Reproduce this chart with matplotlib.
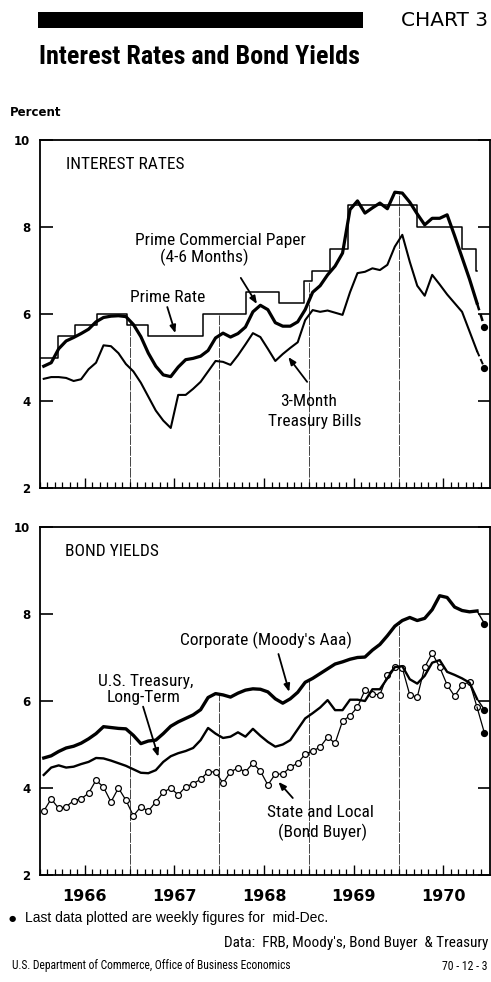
import numpy as np
import matplotlib
matplotlib.use('Agg')
import matplotlib.pyplot as plt
from matplotlib import font_manager as fm
from matplotlib.patches import Rectangle


def pick(names):
    for n in names:
        try:
            fm.findfont(fm.FontProperties(family=n), fallback_to_default=False)
            return n
        except Exception:
            continue
    return 'DejaVu Sans'


COND = pick(['Liberation Sans Narrow', 'DejaVu Sans Condensed', 'Roboto Condensed', 'Liberation Sans'])
PLAIN = pick(['Liberation Sans', 'DejaVu Sans'])

# ---------------- data (monthly averages Jan 1966 - Nov 1970, plus weekly mid-Dec 1970) -------------
year_labels = ['1966', '1967', '1968', '1969', '1970']

commercial_paper = [4.80, 4.88, 5.20, 5.38, 5.46, 5.55, 5.65, 5.82, 5.92, 5.95, 5.96, 5.94,
                    5.76, 5.48, 5.10, 4.80, 4.60, 4.56, 4.78, 4.95, 4.98, 5.03, 5.16, 5.45,
                    5.56, 5.47, 5.55, 5.70, 6.05, 6.20, 6.10, 5.80, 5.72, 5.72, 5.82, 6.10,
                    6.50, 6.65, 6.90, 7.10, 7.40, 8.40, 8.60, 8.32, 8.44, 8.55, 8.42, 8.80,
                    8.78, 8.57, 8.30, 8.05, 8.20, 8.20, 8.28, 7.80, 7.30, 6.80, 6.25]
commercial_paper_dec = 5.70

treasury_bills = [4.51, 4.55, 4.55, 4.53, 4.46, 4.50, 4.73, 4.88, 5.28, 5.26, 5.10, 4.85,
                  4.68, 4.42, 4.10, 3.78, 3.55, 3.38, 4.14, 4.14, 4.28, 4.44, 4.68, 4.92,
                  4.90, 4.83, 5.05, 5.30, 5.56, 5.47, 5.20, 4.92, 5.08, 5.22, 5.35, 5.86,
                  6.09, 6.05, 6.08, 6.03, 5.98, 6.50, 6.94, 6.97, 7.05, 7.01, 7.13, 7.55,
                  7.82, 7.20, 6.65, 6.42, 6.90, 6.68, 6.45, 6.25, 6.05, 5.60, 5.15]
treasury_bills_dec = 4.76

prime_change_dates = [1966.00, 1966.20, 1966.39, 1966.64, 1966.97, 1967.20, 1967.82, 1968.30,
                      1968.67, 1968.95, 1969.03, 1969.23, 1969.44, 1970.21, 1970.71, 1970.865, 1970.875]
prime_rate = [5.00, 5.50, 5.75, 6.00, 5.75, 5.50, 6.00, 6.50,
              6.25, 6.75, 7.00, 7.50, 8.50, 8.00, 7.50, 7.00, 7.00]

corporate_aaa = [4.69, 4.74, 4.84, 4.92, 4.96, 5.03, 5.13, 5.25, 5.41, 5.39, 5.37, 5.36,
                 5.21, 5.02, 5.08, 5.10, 5.25, 5.42, 5.52, 5.60, 5.68, 5.80, 6.08, 6.17,
                 6.14, 6.09, 6.18, 6.25, 6.28, 6.27, 6.21, 6.05, 5.95, 6.05, 6.20, 6.43,
                 6.52, 6.63, 6.74, 6.85, 6.90, 6.96, 7.00, 7.01, 7.17, 7.30, 7.50, 7.72,
                 7.85, 7.92, 7.85, 7.90, 8.10, 8.42, 8.38, 8.16, 8.08, 8.05, 8.07]
corporate_aaa_dec = 7.78

us_treasury_long = [4.30, 4.47, 4.52, 4.47, 4.49, 4.55, 4.60, 4.69, 4.68, 4.63, 4.57, 4.51,
                    4.43, 4.35, 4.34, 4.41, 4.60, 4.73, 4.80, 4.85, 4.92, 5.10, 5.38, 5.25,
                    5.15, 5.18, 5.28, 5.18, 5.36, 5.20, 5.06, 4.95, 5.00, 5.10, 5.35, 5.60,
                    5.72, 5.85, 6.02, 5.79, 5.79, 6.03, 6.03, 6.00, 6.27, 6.27, 6.52, 6.78,
                    6.80, 6.50, 6.40, 6.58, 6.88, 6.94, 6.67, 6.60, 6.52, 6.42, 6.05]
us_treasury_long_dec = 5.80

state_local = [3.47, 3.75, 3.53, 3.57, 3.71, 3.75, 3.88, 4.18, 4.02, 3.68, 4.00, 3.72,
               3.36, 3.57, 3.47, 3.68, 3.90, 4.00, 3.84, 4.03, 4.10, 4.20, 4.37, 4.37,
               4.11, 4.37, 4.46, 4.37, 4.57, 4.39, 4.07, 4.32, 4.32, 4.48, 4.57, 4.78,
               4.85, 4.94, 5.17, 5.03, 5.54, 5.66, 5.86, 6.25, 6.16, 6.14, 6.60, 6.78,
               6.76, 6.14, 6.09, 6.78, 7.10, 6.78, 6.37, 6.11, 6.37, 6.44, 5.86]
state_local_dec = 5.26

# ---------------- helpers -------------
t = 1966 + (np.arange(len(commercial_paper)) + 0.5) / 12.0
t_dec = 1970 + 11.5 / 12.0
XMIN, XMAX = 1966.0, 1971.02

W, H = 491, 982
fig = plt.figure(figsize=(W / 100, H / 100), dpi=100)
fig.patch.set_facecolor('white')


def fx(px):
    return px / W


def fy(py):
    return 1 - py / H


ax1 = fig.add_axes([fx(40), fy(488), 450 / W, 348 / H])
ax2 = fig.add_axes([fx(40), fy(875), 450 / W, 348 / H])

for ax in (ax1, ax2):
    ax.set_xlim(XMIN, XMAX)
    ax.set_ylim(2, 10)
    for s in ax.spines.values():
        s.set_linewidth(1.3)
        s.set_color('black')
    ax.set_yticks([2, 4, 6, 8, 10])
    ax.set_yticklabels(['2', '4', '6', '8', '10'])
    ax.tick_params(axis='y', which='major', direction='in', length=9, width=1.2,
                   left=True, right=True, labelleft=True, labelright=False, pad=7,
                   labelsize=8.5)
    for lab in ax.get_yticklabels():
        lab.set_fontweight('bold')
    months = 1966 + np.arange(0, 60) / 12.0
    ax.set_xticks([m for i, m in enumerate(months) if i % 12 != 6], minor=True)
    ax.set_xticks([y + 0.5 for y in range(1966, 1971)])
    ax.tick_params(axis='x', which='minor', direction='in', length=4.5, width=0.9,
                   top=False, bottom=True)
    ax.tick_params(axis='x', which='major', direction='in', length=7.5, width=1.0,
                   top=False, bottom=True, pad=10, labelsize=11.5)

ax1.set_xticklabels([])
ax2.set_xticklabels(year_labels)
for lab in ax2.get_xticklabels():
    lab.set_fontweight('bold')

# ---------------- top panel -------------
prime_dates = np.array(prime_change_dates)
prime_vals = np.array(prime_rate)


def prime_at(x):
    i = np.searchsorted(prime_dates, x, side='right') - 1
    return prime_vals[max(i, 0)]


vline_style = dict(color='#444444', lw=0.7, linestyle=(0, (10, 1.2)), zorder=1)
for yr in (1967, 1968, 1969, 1970):
    top = max(np.interp(yr, t, commercial_paper), prime_at(yr))
    ax1.plot([yr, yr], [2, top], **vline_style)
    ax2.plot([yr, yr], [2, np.interp(yr, t, corporate_aaa)], **vline_style)

ax1.plot(prime_dates, prime_vals, drawstyle='steps-post', color='black', lw=1.1, zorder=3)
ax1.plot(t, treasury_bills, color='black', lw=1.5, zorder=4, solid_joinstyle='round')
ax1.plot(t, commercial_paper, color='black', lw=2.3, zorder=5, solid_joinstyle='round')
ax1.plot([t[-1], t_dec], [treasury_bills[-1], treasury_bills_dec], color='black', lw=1.4,
         linestyle=(0, (3, 1.5)), zorder=4)
ax1.plot([t[-1], t_dec], [commercial_paper[-1], commercial_paper_dec], color='black', lw=1.8,
         linestyle=(0, (3, 1.5)), zorder=5)
ax1.plot([t_dec, t_dec], [treasury_bills_dec, commercial_paper_dec], linestyle='none',
         marker='o', ms=4.2, color='black', zorder=6)

# ---------------- bottom panel -------------
ax2.plot(t, state_local, color='black', lw=0.9, marker='o', ms=4.2, mfc='white',
         mec='black', mew=0.9, zorder=3)
ax2.plot(t, us_treasury_long, color='black', lw=1.7, zorder=4, solid_joinstyle='round')
ax2.plot(t, corporate_aaa, color='black', lw=2.4, zorder=5, solid_joinstyle='round')
ax2.plot([t[-1], t_dec], [state_local[-1], state_local_dec], color='black', lw=0.9, zorder=3)
ax2.plot([t[-1], t_dec], [us_treasury_long[-1], us_treasury_long_dec], color='black', lw=1.0, zorder=4)
ax2.plot([t[-1], t_dec], [corporate_aaa[-1], corporate_aaa_dec], color='black', lw=1.0, zorder=5)
ax2.plot([t_dec] * 3, [state_local_dec, us_treasury_long_dec, corporate_aaa_dec], linestyle='none',
         marker='o', ms=4.2, color='black', zorder=6)

# ---------------- labels -------------
LBL = dict(family=COND, fontsize=12.5, color='black')
arrow = dict(arrowstyle='-|>,head_length=0.45,head_width=0.18', color='black', lw=1.3,
             shrinkA=0, shrinkB=0)

ax1.text(1966.29, 9.43, 'INTEREST RATES', ha='left', va='center', **LBL)
ax1.text(1968.01, 7.70, 'Prime Commercial Paper', ha='center', va='center', **LBL)
ax1.text(1967.83, 7.31, '(4-6 Months)', ha='center', va='center', **LBL)
ax1.annotate('', xy=(1968.42, 6.23), xytext=(1968.24, 6.83), arrowprops=arrow)
ax1.text(1967.43, 6.37, 'Prime Rate', ha='center', va='center', **LBL)
ax1.annotate('', xy=(1967.51, 5.56), xytext=(1967.42, 6.16), arrowprops=arrow)
ax1.text(1969.00, 3.98, '3-Month', ha='center', va='center', **LBL)
ax1.text(1969.07, 3.52, 'Treasury Bills', ha='center', va='center', **LBL)
ax1.annotate('', xy=(1968.77, 5.01), xytext=(1968.98, 4.44), arrowprops=arrow)

ax2.text(1966.28, 9.43, 'BOND YIELDS', ha='left', va='center', **LBL)
ax2.text(1968.52, 7.40, "Corporate (Moody's Aaa)", ha='center', va='center', **LBL)
ax2.annotate('', xy=(1968.78, 6.21), xytext=(1968.66, 7.08), arrowprops=arrow)
ax2.text(1967.18, 6.44, 'U.S. Treasury,', ha='center', va='center', **LBL)
ax2.text(1967.15, 6.09, 'Long-Term', ha='center', va='center', **LBL)
ax2.annotate('', xy=(1967.32, 4.72), xytext=(1967.15, 5.87), arrowprops=arrow, zorder=2)
ax2.text(1969.125, 3.43, 'State and Local', ha='center', va='center', **LBL)
ax2.text(1969.15, 2.99, '(Bond Buyer)', ha='center', va='center', **LBL)
ax2.annotate('', xy=(1968.66, 4.14), xytext=(1968.82, 3.77), arrowprops=arrow)

# ---------------- header / footer -------------
fig.patches.append(Rectangle((fx(38), fy(28)), (363 - 38) / W, 16 / H, transform=fig.transFigure,
                             facecolor='black', edgecolor='none'))
fig.text(fx(488), fy(20), 'CHART 3', ha='right', va='center', fontsize=14.5, family='DejaVu Sans')
fig.text(fx(39), fy(57), 'Interest Rates and Bond Yields', ha='left', va='center', fontsize=18.8,
         weight='bold', family=COND)
fig.text(fx(10), fy(113), 'Percent', ha='left', va='center', fontsize=8.5, weight='bold',
         family='DejaVu Sans')
fig.text(fx(12), fy(918), '\u25CF', ha='center', va='center', fontsize=6, family='DejaVu Sans')
fig.text(fx(25), fy(918), 'Last data plotted are weekly figures for  mid-Dec.', ha='left',
         va='center', fontsize=10, family=PLAIN)
fig.text(fx(488), fy(943), "Data:  FRB, Moody's, Bond Buyer  & Treasury", ha='right', va='center',
         fontsize=11, family=COND)
fig.text(fx(12), fy(966), 'U.S. Department of Commerce, Office of Business Economics', ha='left',
         va='center', fontsize=8.3, family=COND)
fig.text(fx(488), fy(966), '70 - 12 - 3', ha='right', va='center', fontsize=8.5, family=COND)

fig.savefig('out.png', dpi=100, facecolor='white')
